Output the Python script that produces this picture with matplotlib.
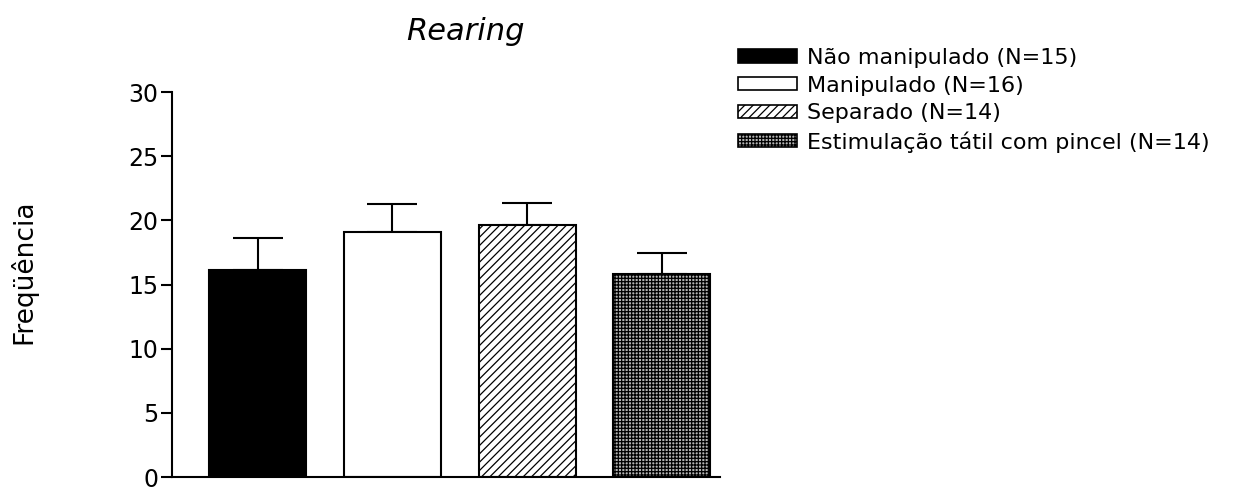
# -*- coding: utf-8 -*-
import numpy as np
import matplotlib.pyplot as plt
from matplotlib.patches import Patch

# dados
grupos = ['Não manipulado (N=15)', 'Manipulado (N=16)',
          'Separado (N=14)', 'Estimulação tátil com pincel (N=14)']
medias = [16.1, 19.1, 19.65, 15.8]
erros = [2.5, 2.2, 1.7, 1.65]

cores = ['black', 'white', 'white', '#b4b4b4']
hachuras = [None, None, '////', '+++++']

plt.rcParams['font.family'] = ['DejaVu Sans']
plt.rcParams['hatch.linewidth'] = 0.9

fig = plt.figure(figsize=(12.52, 4.87), dpi=100)
ax = fig.add_axes([0.1374, 0.0205, 0.4376, 0.7905])

x = np.arange(len(medias))
for i in range(len(medias)):
    ax.bar(x[i], medias[i], width=0.72, color=cores[i], edgecolor='black',
           linewidth=1.5, hatch=hachuras[i], zorder=2)
ax.errorbar(x, medias, yerr=[np.zeros(len(erros)), erros], fmt='none',
            ecolor='black', elinewidth=1.5, capsize=18, capthick=1.5, zorder=1)

ax.set_xlim(-0.635, 3.43)
ax.set_ylim(0, 30)
ax.set_yticks([0, 5, 10, 15, 20, 25, 30])
ax.set_xticks([])
ax.spines['top'].set_visible(False)
ax.spines['right'].set_visible(False)
ax.spines['left'].set_linewidth(1.5)
ax.spines['bottom'].set_linewidth(1.5)
ax.tick_params(axis='y', labelsize=17, width=1.5, length=8, pad=2)

# titulo e eixo y
fig.text(0.372, 1 - 40 / 487, 'Rearing', fontsize=22, style='italic',
         ha='center', va='baseline')
fig.text(0.0184, 0.4415, 'Freqüência', rotation=90, fontsize=19,
         ha='center', va='center')

# legenda
handles = [Patch(facecolor=cores[i], edgecolor='black', hatch=hachuras[i],
                 linewidth=1.2) for i in range(len(grupos))]
fig.legend(handles, grupos, loc='upper left',
           bbox_to_anchor=(0.5895, 0.902), frameon=False, fontsize=16,
           handlelength=2.65, handleheight=0.55, labelspacing=0.35,
           handletextpad=0.45, borderaxespad=0, borderpad=0)

plt.savefig('out.png', dpi=100)
